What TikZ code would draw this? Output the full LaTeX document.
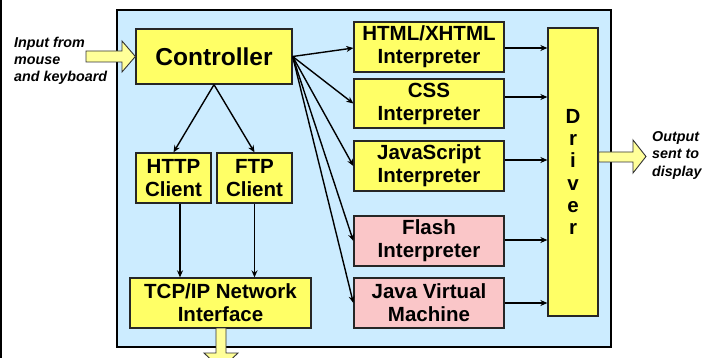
\documentclass[tikz,border=0pt]{standalone}
\usepackage{fontspec}
\setmainfont{Liberation Sans}
\usetikzlibrary{arrows.meta,calc}
\definecolor{bgblue}{RGB}{204,236,255}
\definecolor{boxyellow}{RGB}{255,255,102}
\definecolor{boxpink}{RGB}{250,198,200}
\definecolor{arrowyellow}{RGB}{255,255,153}
\begin{document}
\begin{tikzpicture}[x=1pt,y=-1pt,
  box/.style={draw=black!85,line width=1.3pt,fill=boxyellow,inner sep=0pt,align=center,
    font=\fontsize{20.5}{23}\selectfont\bfseries},
  pinkbox/.style={box,fill=boxpink},
  arr/.style={line width=1.4pt,-{Stealth[length=7pt,width=6pt]}},
  blockarrow/.style={draw=black!80,line width=0.9pt,fill=arrowyellow},
  lbl/.style={inner sep=0pt,align=left,anchor=north west,
    font=\fontsize{14.3}{17.2}\selectfont\bfseries\itshape}]
\useasboundingbox (0,0) rectangle (703,358);
\fill[black] (0,0) rectangle (1.8,358);
\node[draw=black,line width=2.2pt,fill=bgblue,minimum width=494pt,minimum height=337pt,inner sep=0pt] (frame) at (364,178.5) {};

\node[box,minimum width=156pt,minimum height=55pt,font=\fontsize{24.5}{27}\selectfont\bfseries] (ctrl) at (214,56.5) {Controller};
\node[box,minimum width=75pt,minimum height=50pt] (http) at (173.5,178) {HTTP\\Client};
\node[box,minimum width=75pt,minimum height=50pt] (ftp) at (254.5,178) {FTP\\Client};
\node[box,minimum width=181pt,minimum height=50pt] (tcp) at (220.5,303) {TCP/IP Network\\Interface};

\node[box,minimum width=150pt,minimum height=50pt] (html) at (429,47) {HTML/XHTML\\Interpreter};
\node[box,minimum width=150pt,minimum height=49pt] (css) at (429,103.5) {CSS\\Interpreter};
\node[box,minimum width=150pt,minimum height=50pt] (js) at (429,166) {JavaScript\\Interpreter};
\node[pinkbox,minimum width=150pt,minimum height=50pt] (flash) at (429,241) {Flash\\Interpreter};
\node[pinkbox,minimum width=150pt,minimum height=50pt] (jvm) at (429,303) {Java Virtual\\Machine};

\node[box,minimum width=50pt,minimum height=288pt,font=\fontsize{20.5}{22.2}\selectfont\bfseries] (driver) at (573,172) {D\\r\\i\\v\\e\\r};

% controller fan-out
\draw[arr] (ctrl.east) -- (html.west |- 0,48);
\draw[arr] (ctrl.east) -- (css.west);
\draw[arr] (ctrl.east) -- (js.west);
\draw[arr] (ctrl.east) -- (flash.west);
\draw[arr] (ctrl.east) -- (jvm.west);
\draw[arr] (ctrl.south) -- (http.north);
\draw[arr] (ctrl.south) -- (ftp.north);
\draw[arr] ([xshift=6.5pt]http.south) -- ([xshift=6.5pt]http.south |- tcp.north);
\draw[arr] (ftp.south) -- (ftp.south |- tcp.north);

% interpreters to driver
\draw[arr] (html.east |- 0,48) -- (driver.west |- 0,48);
\draw[arr] (css.east |- 0,97) -- (driver.west |- 0,97);
\draw[arr] (js.east |- 0,160) -- (driver.west |- 0,160);
\draw[arr] (flash.east |- 0,240) -- (driver.west |- 0,240);
\draw[arr] (jvm.east |- 0,303) -- (driver.west |- 0,303);

% block arrows
\draw[blockarrow] (86,51) -- (122,51) -- (122,41) -- (ctrl.west) -- (122,72) -- (122,62) -- (86,62) -- cycle;
\draw[blockarrow] (driver.east |- 0,152) -- (633,152) -- (633,140) -- (646,156.5) -- (633,173) -- (633,162) -- (driver.east |- 0,162) -- cycle;
\draw[blockarrow] (216,328) -- (216,353) -- (204,353) -- (221,369) -- (238,353) -- (226,353) -- (226,328) -- cycle;

\node[lbl] (inlbl) at (14,36.6) {Input from\\mouse\\and keyboard};
\node[lbl] (outlbl) at (652,131.5) {Output\\sent to\\display};
\end{tikzpicture}
\end{document}
